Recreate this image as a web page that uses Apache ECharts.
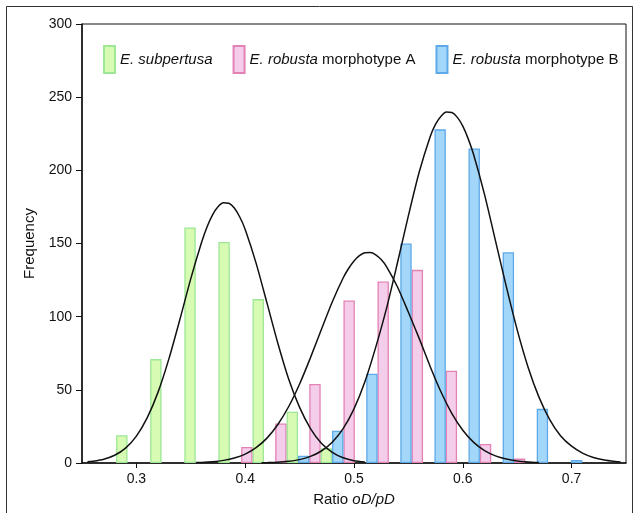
<!DOCTYPE html>
<html>
<head>
<meta charset="utf-8">
<script src="https://cdn.jsdelivr.net/npm/echarts@6/dist/echarts.min.js"></script>
<style>
  html, body { margin: 0; padding: 0; background: #fff; }
  #chart { width: 637px; height: 513px; }
</style>
</head>
<body>
<div id="chart"></div>
<script>
// bin centres of the histogram (ratio oD/pD)
var binCenters = [0.2866, 0.3179, 0.3493, 0.3806, 0.4120, 0.4433, 0.4746, 0.5060, 0.5373, 0.5687, 0.6000, 0.6314, 0.6627, 0.6941];

// frequencies per bin
var subpertusa = [19, 71, 161, 151, 112, 35, 10, 0, 0, 0, 0, 0, 0, 0];
var robustaA   = [0, 0, 0, 0, 11, 27, 54, 111, 124, 132, 63, 13, 3, 0];
var robustaB   = [0, 0, 0, 0, 0, 5, 22, 61, 150, 228, 215, 144, 37, 2];

// fitted curves
var curveSubpertusa = [
    [0.255, 0.8], [0.26, 1.2], [0.27, 2.6], [0.28, 5.3], [0.29, 10.2], [0.30, 18.4],
    [0.31, 31], [0.32, 48.6], [0.33, 71.5], [0.34, 98.2], [0.35, 126], [0.36, 151],
    [0.365, 161.5], [0.37, 169.6], [0.375, 175.1], [0.38, 177.8], [0.385, 177.5],
    [0.39, 174.2], [0.395, 168.1], [0.40, 159.6], [0.41, 136.6], [0.42, 109.4],
    [0.43, 81.8], [0.44, 57.2], [0.45, 38], [0.46, 23.5], [0.47, 13.5], [0.48, 7.3],
    [0.49, 3.6], [0.50, 1.6], [0.51, 0.7]
];
var curveRobustaA = [
    [0.355, 0.3], [0.36, 0.4], [0.37, 0.9], [0.38, 1.8], [0.39, 3.4], [0.40, 6.1],
    [0.41, 10.5], [0.42, 17], [0.43, 26.3], [0.44, 38.6], [0.45, 54], [0.46, 72],
    [0.47, 91.2], [0.48, 110], [0.49, 126.4], [0.495, 132.9], [0.50, 138.1], [0.505, 141.7],
    [0.51, 143.7], [0.515, 143.9], [0.52, 142.3], [0.525, 139], [0.53, 134.1],
    [0.54, 120.3], [0.55, 103], [0.56, 85], [0.57, 66], [0.58, 48.5],
    [0.59, 33.8], [0.60, 22.4], [0.61, 14.1], [0.62, 8.5], [0.63, 4.9], [0.64, 2.7],
    [0.65, 1.4], [0.66, 0.7], [0.67, 0.3]
];
var curveRobustaB = [
    [0.415, 0.2], [0.42, 0.25], [0.43, 0.5], [0.44, 1.2], [0.45, 2.3], [0.46, 4.5],
    [0.47, 8.2], [0.48, 14.2], [0.49, 23.5], [0.50, 37], [0.51, 55.5], [0.52, 79.2],
    [0.53, 106], [0.54, 137], [0.55, 169], [0.56, 199], [0.57, 223], [0.575, 231.6],
    [0.58, 237], [0.585, 239.8], [0.59, 239.5], [0.595, 236.2], [0.60, 230.2],
    [0.605, 221.5], [0.61, 210.6], [0.62, 183.4], [0.63, 152], [0.64, 120.5],
    [0.65, 91], [0.66, 65.5], [0.67, 45], [0.68, 29.5], [0.69, 18.5], [0.70, 11.5],
    [0.71, 6.8], [0.72, 3.8], [0.73, 2], [0.74, 1], [0.745, 0.7]
];

var xTicks = [0.3, 0.4, 0.5, 0.6, 0.7];

var names = ['E. subpertusa', 'E. robusta morphotype A', 'E. robusta morphotype B'];
var legendLabels = {
    'E. subpertusa': '{i|E. subpertusa}',
    'E. robusta morphotype A': '{i|E. robusta} morphotype A',
    'E. robusta morphotype B': '{i|E. robusta} morphotype B'
};

var font = "'Liberation Sans', Arial, sans-serif";

function pairs(values) {
    return binCenters.map(function (c, i) { return [c, values[i]]; })
        .filter(function (d) { return d[1] > 0; });
}

function barSeries(name, values, fill, stroke) {
    return {
        name: name,
        type: 'bar',
        barWidth: 11.4,
        barGap: 0,
        data: pairs(values),
        itemStyle: { color: fill, borderColor: stroke, borderWidth: 1.3 },
        emphasis: { disabled: true }
    };
}

function curveSeries(data) {
    return {
        type: 'line',
        data: data,
        smooth: 0.25,
        showSymbol: false,
        silent: true,
        z: 5,
        lineStyle: { color: '#111', width: 1.5 }
    };
}

var chart = echarts.init(document.getElementById('chart'));
chart.setOption({
    animation: false,
    textStyle: { fontFamily: font },
    graphic: [{
        type: 'rect',
        shape: { x: 6.5, y: 6.5, width: 626, height: 520 },
        style: { fill: 'none', stroke: '#333', lineWidth: 1 },
        silent: true
    }],
    grid: {
        left: 82, right: 11, top: 24, bottom: 50,
        show: true, borderColor: '#111', borderWidth: 1
    },
    legend: {
        data: names,
        left: 98, top: 40,
        itemWidth: 11, itemHeight: 27, itemGap: 20,
        icon: 'rect',
        formatter: function (name) { return legendLabels[name]; },
        textStyle: {
            fontFamily: font, fontSize: 15, color: '#111',
            rich: { i: { fontFamily: font, fontSize: 15, fontStyle: 'italic', color: '#111' } }
        }
    },
    xAxis: {
        type: 'value',
        min: 0.25, max: 0.75,
        name: 'Ratio {i|oD/pD}',
        nameLocation: 'middle', nameGap: 29,
        nameTextStyle: {
            fontFamily: font, fontSize: 15, color: '#111',
            rich: { i: { fontFamily: font, fontSize: 15, fontStyle: 'italic', color: '#111' } }
        },
        axisLine: { lineStyle: { color: '#111', width: 1.5 } },
        axisTick: { customValues: xTicks, length: 5, lineStyle: { color: '#111' } },
        axisLabel: {
            customValues: xTicks, margin: 9, fontSize: 14, color: '#111',
            formatter: function (v) { return v.toFixed(1); }
        },
        splitLine: { show: false }
    },
    yAxis: {
        type: 'value',
        min: 0, max: 300, interval: 50,
        name: 'Frequency',
        nameLocation: 'middle', nameGap: 44,
        nameTextStyle: { fontFamily: font, fontSize: 15, color: '#111' },
        axisLine: { show: true, lineStyle: { color: '#111', width: 1.5 } },
        axisTick: { show: true, length: 6, lineStyle: { color: '#111' } },
        axisLabel: { margin: 10, fontSize: 14, color: '#111' },
        splitLine: { show: false }
    },
    series: [
        barSeries(names[1], robustaA, '#f4cdea', '#e382b5'),
        barSeries(names[0], subpertusa, '#d8fbb4', '#9de795'),
        barSeries(names[2], robustaB, '#a3d7fa', '#5ea9e8'),
        curveSeries(curveSubpertusa),
        curveSeries(curveRobustaA),
        curveSeries(curveRobustaB)
    ]
});

window.addEventListener('resize', function () {
    chart.resize();
});
</script>
</body>
</html>
